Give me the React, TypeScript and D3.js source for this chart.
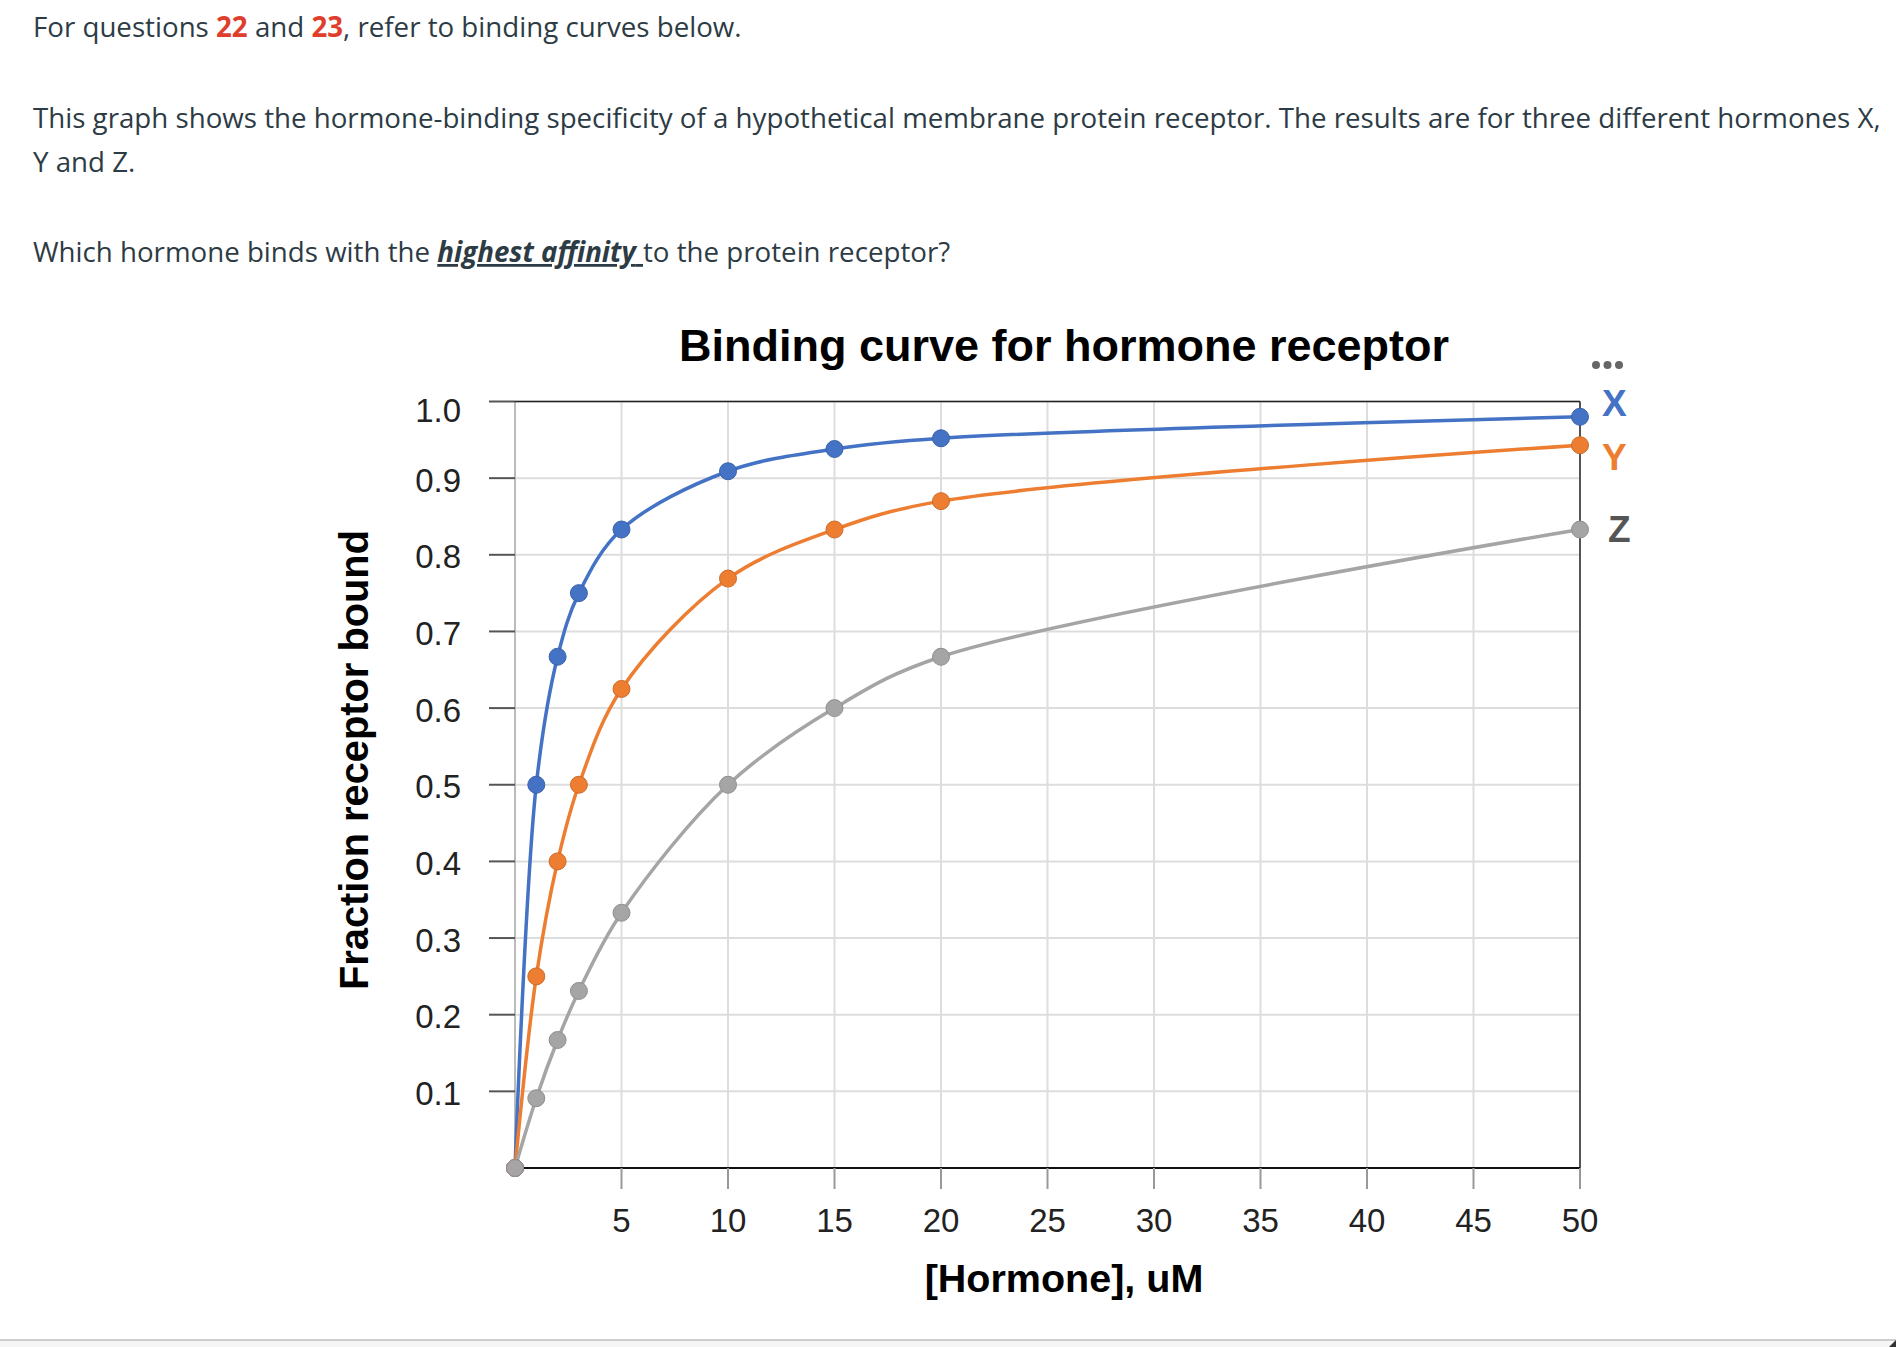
import React from "react";
import * as d3 from "d3";

// Hormone concentrations (uM) at which binding was measured
const concentrations = [0, 1, 2, 3, 5, 10, 15, 20, 50];

// Fraction of receptor bound for each hormone
const hormoneX = [0, 0.5, 0.667, 0.75, 0.833, 0.909, 0.938, 0.952, 0.98];
const hormoneY = [0, 0.25, 0.4, 0.5, 0.625, 0.769, 0.833, 0.87, 0.943];
const hormoneZ = [0, 0.091, 0.167, 0.231, 0.333, 0.5, 0.6, 0.667, 0.833];

const seriesNames = ["X", "Y", "Z"];
const seriesColors = ["#4472c4", "#ed7d31", "#a5a5a5"];
const labelColors = ["#4472c4", "#ed7d31", "#555555"];

const yTicks = [0.1, 0.2, 0.3, 0.4, 0.5, 0.6, 0.7, 0.8, 0.9, 1.0];
const xTicks = [5, 10, 15, 20, 25, 30, 35, 40, 45, 50];

const W = 1896;
const H = 1347;
const chartFont = "'Liberation Sans', Arial, sans-serif";
const bodyFont = "'Open Sans', sans-serif";
const textColor = "#2d3b45";
const accentRed = "#e03e2d";

export default function App() {
  const x = d3.scaleLinear().domain([0, 50]).range([515, 1580]);
  const y = d3.scaleLinear().domain([0, 1]).range([1168, 401.5]);

  const allSeries = [hormoneX, hormoneY, hormoneZ];
  const line = d3
    .line<number>()
    .x((_, i) => x(concentrations[i]))
    .y((d) => y(d))
    .curve(d3.curveCatmullRom.alpha(0.5));

  // label offsets keep the end-of-line names from colliding
  const labelDy = [-13, 12, 0];
  const labelDx = [22, 22, 28];

  return (
    <svg
      width={W}
      height={H}
      style={{ position: "absolute", left: 0, top: 0, background: "#fff" }}
    >
      {/* Question text */}
      <g fontFamily={bodyFont} fontSize={27.7} fill={textColor}>
        <text x={33} y={37}>
          For questions{" "}
          <tspan fill={accentRed} fontWeight={700}>22</tspan> and{" "}
          <tspan fill={accentRed} fontWeight={700}>23</tspan>, refer to binding curves below.
        </text>
        <text x={33} y={128}>
          This graph shows the hormone-binding specificity of a hypothetical membrane protein receptor. The results are for three different hormones X,
        </text>
        <text x={33} y={172}>Y and Z.</text>
        <text x={33} y={262}>
          Which hormone binds with the{" "}
          <tspan fontWeight={700} fontStyle="italic" style={{ textDecoration: "underline" }}>
            highest affinity{" "}
          </tspan>
          to the protein receptor?
        </text>
      </g>

      {/* Chart title */}
      <text
        x={1064}
        y={361}
        textAnchor="middle"
        fontFamily={chartFont}
        fontWeight={700}
        fontSize={45}
        fill="#000"
      >
        Binding curve for hormone receptor
      </text>

      {/* Gridlines */}
      <g stroke="#dddddd" strokeWidth={2}>
        {yTicks.map((t) => (
          <line key={"gy" + t} x1={x(0)} x2={x(50)} y1={y(t)} y2={y(t)} />
        ))}
        {xTicks.map((t) => (
          <line key={"gx" + t} x1={x(t)} x2={x(t)} y1={y(0)} y2={y(1)} />
        ))}
      </g>

      {/* Axes and frame */}
      <line x1={x(0)} x2={x(0)} y1={y(0)} y2={y(1)} stroke="#bbbbbb" strokeWidth={2} />
      <line x1={x(0)} x2={x(50)} y1={y(1)} y2={y(1)} stroke="#222" strokeWidth={1.6} />
      <line x1={x(50)} x2={x(50)} y1={y(0)} y2={y(1)} stroke="#333" strokeWidth={1.6} />
      <line x1={x(0)} x2={x(50)} y1={y(0)} y2={y(0)} stroke="#111" strokeWidth={2} />

      {/* Y ticks and labels */}
      <g fontFamily={chartFont} fontSize={33} fill="#222">
        {yTicks.map((t) => (
          <g key={"yt" + t}>
            <line x1={489} x2={x(0)} y1={y(t)} y2={y(t)} stroke="#555" strokeWidth={2} />
            <text
              x={461}
              y={y(t) + (t === 1 ? 9 : 2)}
              textAnchor="end"
              dominantBaseline="central"
            >
              {t.toFixed(1)}
            </text>
          </g>
        ))}
      </g>

      {/* X ticks and labels */}
      <g fontFamily={chartFont} fontSize={33} fill="#222">
        {xTicks.map((t) => (
          <g key={"xt" + t}>
            <line x1={x(t)} x2={x(t)} y1={y(0)} y2={y(0) + 21} stroke="#999" strokeWidth={2} />
            <text x={x(t)} y={1232} textAnchor="middle">
              {t}
            </text>
          </g>
        ))}
      </g>

      {/* Axis titles */}
      <text
        x={1064}
        y={1292}
        textAnchor="middle"
        fontFamily={chartFont}
        fontWeight={700}
        fontSize={39.5}
        fill="#000"
      >
        [Hormone], uM
      </text>
      <text
        transform="translate(368,760) rotate(-90)"
        textAnchor="middle"
        fontFamily={chartFont}
        fontWeight={700}
        fontSize={39.8}
        fill="#000"
      >
        Fraction receptor bound
      </text>

      {/* Series lines */}
      {allSeries.map((s, k) => (
        <path
          key={"line" + k}
          d={line(s) || ""}
          fill="none"
          stroke={seriesColors[k]}
          strokeWidth={3.5}
        />
      ))}

      {/* Series points */}
      {allSeries.map((s, k) => (
        <g key={"pts" + k}>
          {s.map((v, i) => (
            <circle
              key={i}
              cx={x(concentrations[i])}
              cy={y(v)}
              r={8.5}
              fill={seriesColors[k]}
              stroke={d3.color(seriesColors[k])!.darker(0.4).toString()}
              strokeWidth={1}
            />
          ))}
        </g>
      ))}

      {/* Series names at the end of each line */}
      {allSeries.map((s, k) => (
        <text
          key={"lbl" + k}
          x={x(50) + labelDx[k]}
          y={y(s[s.length - 1]) + labelDy[k]}
          dominantBaseline="central"
          fontFamily={chartFont}
          fontSize={37}
          fontWeight={700}
          fill={labelColors[k]}
        >
          {seriesNames[k]}
        </text>
      ))}

      {/* Overflow menu dots */}
      <g fill="#666">
        {[1596, 1607.5, 1619].map((cx) => (
          <circle key={cx} cx={cx} cy={365} r={4} />
        ))}
      </g>

      {/* Bottom page strip */}
      <rect x={0} y={1339} width={W} height={2} fill="#cccccc" />
      <rect x={0} y={1341} width={W} height={6} fill="#f5f5f5" />
      <path d={`M${W} ${H - 7} L${W} ${H} L${W - 7} ${H} Z`} fill="#333" />
    </svg>
  );
}
